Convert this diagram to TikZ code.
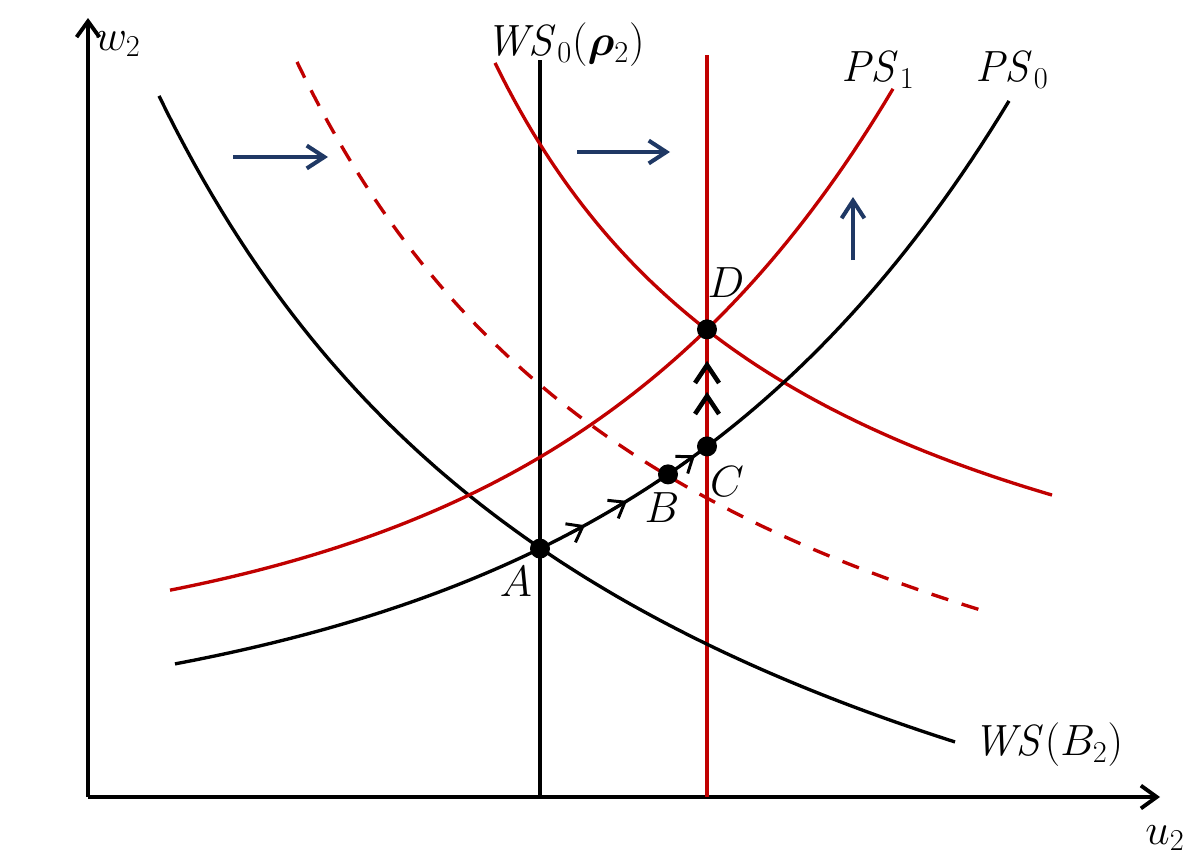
\documentclass[tikz,border=0pt]{standalone}
\usepackage{amsmath,amssymb,bm}
\usepackage{tikz}
\usetikzlibrary{arrows.meta,calc}
\usepackage{xcolor}
\definecolor{curvered}{RGB}{192,0,0}
\definecolor{moveblue}{RGB}{31,56,100}

\begin{document}
\begin{tikzpicture}[x=0.02cm, y=-0.02cm,
  declare function={
    ps0(\x)=737-exp(3.838+0.0026*\x);
    ps1(\x)=657-exp(3.699+0.002957*\x);
    wsb(\x)=1162-551.79/((\x+358.6)/1000);
    ws1(\x)=759.6-237.607/((\x-153.9)/1000);
    wsd(\x)=952.3-380.167/((\x+130)/1000);
  },
  axis/.style={line width=2.2pt, -{Straight Barb[length=9pt,width=13pt]}},
  curve/.style={line width=1.9pt, samples=90},
  redcurve/.style={curve, draw=curvered},
  dashcurve/.style={redcurve, dash pattern=on 10pt off 8pt},
  vline/.style={line width=1.9pt},
  movearrow/.style={line width=2.3pt, draw=moveblue, -{Straight Barb[length=10pt,width=13pt]}},
  flow/.style={line width=1.7pt, -{Straight Barb[length=8pt,width=12pt]}},
  chevron/.style={line width=2.6pt, line join=miter},
  dot/.style={circle, fill=black, inner sep=0pt, minimum size=0.4cm},
  lab/.style={font=\fontsize{23}{27}\selectfont, inner sep=1pt}
]
\useasboundingbox (0,0) rectangle (1203,862);

% equilibrium points
\coordinate (A) at (540,{ps0(540)});
\coordinate (B) at (668,{ps0(668)});
\coordinate (C) at (707,{ps0(707)});
\coordinate (D) at (707,{ps1(707)});
\coordinate (O) at (88,797);

% axes
\draw[axis] (O) -- (88,18);
\draw[axis] (O) -- (1160,797);
\node[lab] (w2) at (118,44) {$w_2$};
\node[lab] (u2) at (1165,838) {$u_2$};

% vertical wage setting lines
\draw[vline] (540,60) -- (540,797);
\draw[vline, draw=curvered] (707,55) -- (707,797);

% wage setting curves
\draw[curve] plot[domain=159:955] (\x,{wsb(\x)});
\draw[dashcurve] plot[domain=297:987] (\x,{wsd(\x)});
\draw[redcurve] plot[domain=495:1052] (\x,{ws1(\x)});

% price setting curves
\draw[curve] plot[domain=175:1009] (\x,{ps0(\x)});
\draw[redcurve] plot[domain=170:893] (\x,{ps1(\x)});

% adjustment path
\foreach \t in {585,627,695}
  \draw[flow] (\t-15,{ps0(\t-15)}) -- (\t,{ps0(\t)});
\foreach \y in {365,396}
  \draw[chevron] (695,\y+18) -- (707,\y) -- (719,\y+18);

% shifts
\draw[movearrow] (233,157) -- (328,157);
\draw[movearrow] (577,152) -- (670,152);
\draw[movearrow] (853,260) -- (853,197);

\node[dot] (a) at (A) {};
\node[dot] (b) at (B) {};
\node[dot] (c) at (C) {};
\node[dot] (d) at (D) {};
\node[lab] (la) at (516,582) {$A$};
\node[lab] (lb) at (662,508) {$B$};
\node[lab] (lc) at (727,482) {$C$};
\node[lab] (ld) at (726,283) {$D$};

\node[lab] (ws0) at (565,45) {$\mathit{WS}_0(\bm{\rho}_2)$};
\node[lab] (ps1) at (878,70) {$\mathit{PS}_1$};
\node[lab] (ps0) at (1012,70) {$\mathit{PS}_0$};
\node[lab] (wsb) at (1048,745) {$\mathit{WS}(B_2)$};
\end{tikzpicture}
\end{document}
